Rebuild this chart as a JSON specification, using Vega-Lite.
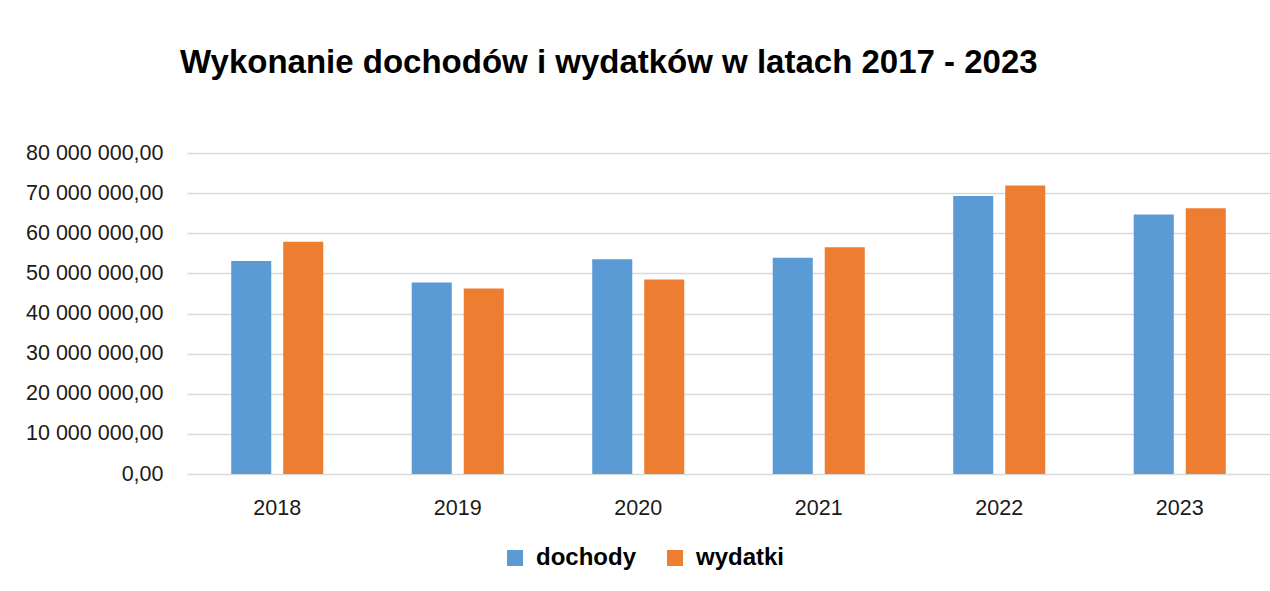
{
  "$schema": "https://vega.github.io/schema/vega-lite/v6.json",
  "width": 1083,
  "height": 321,
  "padding": {"left": 25, "top": 47, "right": 0, "bottom": 10},
  "background": "white",
  "title": {
    "text": "Wykonanie dochodów i wydatków w latach 2017 - 2023",
    "anchor": "start",
    "frame": "group",
    "dx": -7,
    "font": "Liberation Sans",
    "fontSize": 33,
    "fontWeight": "bold",
    "color": "#000000",
    "offset": 62
  },
  "config": {
    "locale": {
      "number": {
        "decimal": ",",
        "thousands": " ",
        "grouping": [3],
        "currency": ["", " zł"]
      }
    },
    "view": {"stroke": null},
    "font": "Liberation Sans"
  },
  "data": {
    "values": [
      {"rok": "2018", "typ": "dochody", "kwota": 53100000},
      {"rok": "2018", "typ": "wydatki", "kwota": 57900000},
      {"rok": "2019", "typ": "dochody", "kwota": 47750000},
      {"rok": "2019", "typ": "wydatki", "kwota": 46250000},
      {"rok": "2020", "typ": "dochody", "kwota": 53500000},
      {"rok": "2020", "typ": "wydatki", "kwota": 48500000},
      {"rok": "2021", "typ": "dochody", "kwota": 53900000},
      {"rok": "2021", "typ": "wydatki", "kwota": 56500000},
      {"rok": "2022", "typ": "dochody", "kwota": 69300000},
      {"rok": "2022", "typ": "wydatki", "kwota": 71900000},
      {"rok": "2023", "typ": "dochody", "kwota": 64700000},
      {"rok": "2023", "typ": "wydatki", "kwota": 66250000}
    ]
  },
  "mark": {"type": "bar"},
  "encoding": {
    "x": {
      "field": "rok",
      "type": "nominal",
      "scale": {"paddingInner": 0.49, "paddingOuter": 0.245},
      "axis": {
        "title": null,
        "labelAngle": 0,
        "ticks": false,
        "domain": false,
        "labelFontSize": 21.5,
        "labelColor": "#1a1a1a",
        "labelPadding": 23
      }
    },
    "xOffset": {
      "field": "typ",
      "type": "nominal",
      "scale": {"paddingInner": 0.23, "paddingOuter": 0}
    },
    "y": {
      "field": "kwota",
      "type": "quantitative",
      "scale": {"domain": [0, 80000000], "nice": false},
      "axis": {
        "title": null,
        "values": [0, 10000000, 20000000, 30000000, 40000000, 50000000, 60000000, 70000000, 80000000],
        "format": ",.2f",
        "ticks": false,
        "domain": false,
        "gridColor": "#d9d9d9",
        "gridWidth": 1.5,
        "labelFontSize": 21.5,
        "labelColor": "#1a1a1a",
        "labelPadding": 24
      }
    },
    "color": {
      "field": "typ",
      "type": "nominal",
      "scale": {"domain": ["dochody", "wydatki"], "range": ["#5b9bd5", "#ed7d31"]},
      "legend": {
        "title": null,
        "orient": "none",
        "legendX": 316,
        "legendY": 393,
        "direction": "horizontal",
        "symbolType": "square",
        "symbolSize": 256,
        "symbolStrokeWidth": 0,
        "labelFontSize": 24,
        "labelFontWeight": "bold",
        "labelColor": "#000000",
        "labelOffset": 9,
        "columnPadding": 27
      }
    }
  }
}
